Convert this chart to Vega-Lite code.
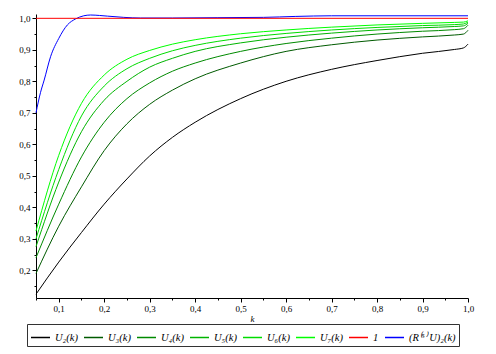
{
  "$schema": "https://vega.github.io/schema/vega-lite/v6.json",
  "width": 432,
  "height": 284,
  "autosize": {"type": "none"},
  "padding": {"left": 36, "top": 14, "right": 28, "bottom": 56},
  "background": "white",
  "config": {
    "view": {"stroke": null},
    "axis": {
      "grid": false,
      "domainColor": "black",
      "tickColor": "black",
      "labelColor": "black",
      "labelFont": "Liberation Serif",
      "labelFontSize": 9,
      "labelFlush": false,
      "labelOverlap": false,
      "titleFont": "Liberation Serif",
      "titleFontStyle": "italic",
      "titleFontWeight": "normal",
      "titleFontSize": 9,
      "titleColor": "black"
    }
  },
  "data": {"values": [
    {"s": "U₂(k)", "k": 0.05, "v": 0.124}, {"s": "U₂(k)", "k": 0.1, "v": 0.226}, {"s": "U₂(k)", "k": 0.15, "v": 0.32}, {"s": "U₂(k)", "k": 0.2, "v": 0.41}, {"s": "U₂(k)", "k": 0.25, "v": 0.49}, {"s": "U₂(k)", "k": 0.3, "v": 0.563}, {"s": "U₂(k)", "k": 0.35, "v": 0.622}, {"s": "U₂(k)", "k": 0.4, "v": 0.67}, {"s": "U₂(k)", "k": 0.5, "v": 0.745}, {"s": "U₂(k)", "k": 0.6, "v": 0.8}, {"s": "U₂(k)", "k": 0.7, "v": 0.838}, {"s": "U₂(k)", "k": 0.8, "v": 0.866}, {"s": "U₂(k)", "k": 0.9, "v": 0.889}, {"s": "U₂(k)", "k": 0.97, "v": 0.901}, {"s": "U₂(k)", "k": 0.99, "v": 0.906}, {"s": "U₂(k)", "k": 1.0, "v": 0.918},
    {"s": "U₃(k)", "k": 0.05, "v": 0.19}, {"s": "U₃(k)", "k": 0.1, "v": 0.34}, {"s": "U₃(k)", "k": 0.15, "v": 0.465}, {"s": "U₃(k)", "k": 0.2, "v": 0.58}, {"s": "U₃(k)", "k": 0.25, "v": 0.665}, {"s": "U₃(k)", "k": 0.3, "v": 0.727}, {"s": "U₃(k)", "k": 0.35, "v": 0.772}, {"s": "U₃(k)", "k": 0.4, "v": 0.808}, {"s": "U₃(k)", "k": 0.5, "v": 0.858}, {"s": "U₃(k)", "k": 0.6, "v": 0.895}, {"s": "U₃(k)", "k": 0.7, "v": 0.916}, {"s": "U₃(k)", "k": 0.8, "v": 0.931}, {"s": "U₃(k)", "k": 0.9, "v": 0.941}, {"s": "U₃(k)", "k": 0.97, "v": 0.947}, {"s": "U₃(k)", "k": 0.99, "v": 0.95}, {"s": "U₃(k)", "k": 1.0, "v": 0.962},
    {"s": "U₄(k)", "k": 0.05, "v": 0.24}, {"s": "U₄(k)", "k": 0.1, "v": 0.41}, {"s": "U₄(k)", "k": 0.15, "v": 0.56}, {"s": "U₄(k)", "k": 0.2, "v": 0.67}, {"s": "U₄(k)", "k": 0.25, "v": 0.745}, {"s": "U₄(k)", "k": 0.3, "v": 0.795}, {"s": "U₄(k)", "k": 0.35, "v": 0.832}, {"s": "U₄(k)", "k": 0.4, "v": 0.858}, {"s": "U₄(k)", "k": 0.5, "v": 0.895}, {"s": "U₄(k)", "k": 0.6, "v": 0.92}, {"s": "U₄(k)", "k": 0.7, "v": 0.937}, {"s": "U₄(k)", "k": 0.8, "v": 0.95}, {"s": "U₄(k)", "k": 0.9, "v": 0.959}, {"s": "U₄(k)", "k": 0.97, "v": 0.964}, {"s": "U₄(k)", "k": 0.99, "v": 0.967}, {"s": "U₄(k)", "k": 1.0, "v": 0.978},
    {"s": "U₅(k)", "k": 0.05, "v": 0.275}, {"s": "U₅(k)", "k": 0.1, "v": 0.48}, {"s": "U₅(k)", "k": 0.15, "v": 0.64}, {"s": "U₅(k)", "k": 0.2, "v": 0.74}, {"s": "U₅(k)", "k": 0.25, "v": 0.8}, {"s": "U₅(k)", "k": 0.3, "v": 0.845}, {"s": "U₅(k)", "k": 0.35, "v": 0.873}, {"s": "U₅(k)", "k": 0.4, "v": 0.895}, {"s": "U₅(k)", "k": 0.5, "v": 0.922}, {"s": "U₅(k)", "k": 0.6, "v": 0.94}, {"s": "U₅(k)", "k": 0.7, "v": 0.953}, {"s": "U₅(k)", "k": 0.8, "v": 0.963}, {"s": "U₅(k)", "k": 0.9, "v": 0.97}, {"s": "U₅(k)", "k": 0.97, "v": 0.974}, {"s": "U₅(k)", "k": 0.99, "v": 0.976}, {"s": "U₅(k)", "k": 1.0, "v": 0.984},
    {"s": "U₆(k)", "k": 0.05, "v": 0.3}, {"s": "U₆(k)", "k": 0.1, "v": 0.52}, {"s": "U₆(k)", "k": 0.15, "v": 0.69}, {"s": "U₆(k)", "k": 0.2, "v": 0.785}, {"s": "U₆(k)", "k": 0.25, "v": 0.84}, {"s": "U₆(k)", "k": 0.3, "v": 0.873}, {"s": "U₆(k)", "k": 0.35, "v": 0.897}, {"s": "U₆(k)", "k": 0.4, "v": 0.914}, {"s": "U₆(k)", "k": 0.5, "v": 0.937}, {"s": "U₆(k)", "k": 0.6, "v": 0.952}, {"s": "U₆(k)", "k": 0.7, "v": 0.963}, {"s": "U₆(k)", "k": 0.8, "v": 0.971}, {"s": "U₆(k)", "k": 0.9, "v": 0.977}, {"s": "U₆(k)", "k": 0.97, "v": 0.98}, {"s": "U₆(k)", "k": 0.99, "v": 0.982}, {"s": "U₆(k)", "k": 1.0, "v": 0.988},
    {"s": "U₇(k)", "k": 0.05, "v": 0.325}, {"s": "U₇(k)", "k": 0.1, "v": 0.565}, {"s": "U₇(k)", "k": 0.15, "v": 0.73}, {"s": "U₇(k)", "k": 0.2, "v": 0.82}, {"s": "U₇(k)", "k": 0.25, "v": 0.87}, {"s": "U₇(k)", "k": 0.3, "v": 0.898}, {"s": "U₇(k)", "k": 0.35, "v": 0.918}, {"s": "U₇(k)", "k": 0.4, "v": 0.932}, {"s": "U₇(k)", "k": 0.5, "v": 0.951}, {"s": "U₇(k)", "k": 0.6, "v": 0.963}, {"s": "U₇(k)", "k": 0.7, "v": 0.972}, {"s": "U₇(k)", "k": 0.8, "v": 0.979}, {"s": "U₇(k)", "k": 0.9, "v": 0.984}, {"s": "U₇(k)", "k": 0.97, "v": 0.987}, {"s": "U₇(k)", "k": 0.99, "v": 0.988}, {"s": "U₇(k)", "k": 1.0, "v": 0.992},
    {"s": "(R⁽⁵⁾ U)₂(k)", "k": 0.05, "v": 0.7}, {"s": "(R⁽⁵⁾ U)₂(k)", "k": 0.06, "v": 0.765}, {"s": "(R⁽⁵⁾ U)₂(k)", "k": 0.068, "v": 0.804}, {"s": "(R⁽⁵⁾ U)₂(k)", "k": 0.082, "v": 0.878}, {"s": "(R⁽⁵⁾ U)₂(k)", "k": 0.1, "v": 0.936}, {"s": "(R⁽⁵⁾ U)₂(k)", "k": 0.119, "v": 0.979}, {"s": "(R⁽⁵⁾ U)₂(k)", "k": 0.137, "v": 0.998}, {"s": "(R⁽⁵⁾ U)₂(k)", "k": 0.155, "v": 1.008}, {"s": "(R⁽⁵⁾ U)₂(k)", "k": 0.17, "v": 1.0105}, {"s": "(R⁽⁵⁾ U)₂(k)", "k": 0.19, "v": 1.009}, {"s": "(R⁽⁵⁾ U)₂(k)", "k": 0.207, "v": 1.007}, {"s": "(R⁽⁵⁾ U)₂(k)", "k": 0.243, "v": 1.003}, {"s": "(R⁽⁵⁾ U)₂(k)", "k": 0.28, "v": 1.001}, {"s": "(R⁽⁵⁾ U)₂(k)", "k": 0.35, "v": 1.001}, {"s": "(R⁽⁵⁾ U)₂(k)", "k": 0.45, "v": 1.002}, {"s": "(R⁽⁵⁾ U)₂(k)", "k": 0.55, "v": 1.003}, {"s": "(R⁽⁵⁾ U)₂(k)", "k": 0.62, "v": 1.006}, {"s": "(R⁽⁵⁾ U)₂(k)", "k": 0.7, "v": 1.008}, {"s": "(R⁽⁵⁾ U)₂(k)", "k": 1.0, "v": 1.008},
    {"s": "1", "k": 0.05, "v": 1.0}, {"s": "1", "k": 1.0, "v": 1.0}
  ]},
  "mark": {"type": "line", "strokeWidth": 1, "interpolate": "monotone"},
  "encoding": {
    "x": {
      "field": "k", "type": "quantitative",
      "scale": {"domain": [0.05, 1.0], "nice": false, "zero": false},
      "axis": {
        "title": "k",
        "values": [0.05, 0.1, 0.15, 0.2, 0.25, 0.3, 0.35, 0.4, 0.45, 0.5, 0.55, 0.6, 0.65, 0.7, 0.75, 0.8, 0.85, 0.9, 0.95, 1.0],
        "labelExpr": "abs(datum.value*10 - round(datum.value*10)) < 0.001 && datum.value > 0.06 ? replace(format(datum.value, '.1f'), '.', ',') : ''",
        "tickSize": {"condition": {"test": "abs(datum.value*10 - round(datum.value*10)) < 0.001", "value": 4}, "value": 2},
        "labelPadding": 2,
        "titlePadding": 1
      }
    },
    "y": {
      "field": "v", "type": "quantitative",
      "scale": {"domain": [0.112, 1.0137], "nice": false, "zero": false},
      "axis": {
        "title": null,
        "values": [0.15, 0.2, 0.25, 0.3, 0.35, 0.4, 0.45, 0.5, 0.55, 0.6, 0.65, 0.7, 0.75, 0.8, 0.85, 0.9, 0.95, 1.0],
        "labelExpr": "abs(datum.value*10 - round(datum.value*10)) < 0.001 ? replace(format(datum.value, '.1f'), '.', ',') : ''",
        "tickSize": {"condition": {"test": "abs(datum.value*10 - round(datum.value*10)) < 0.001", "value": 4}, "value": 2},
        "labelPadding": 2
      }
    },
    "color": {
      "field": "s", "type": "nominal",
      "scale": {
        "domain": ["U₂(k)", "U₃(k)", "U₄(k)", "U₅(k)", "U₆(k)", "U₇(k)", "1", "(R⁽⁵⁾ U)₂(k)"],
        "range": ["#000000", "#005a00", "#008a00", "#00b400", "#00dc00", "#00ff00", "#ff0000", "#0000ff"]
      },
      "legend": {
        "title": null,
        "orient": "none",
        "legendX": -9,
        "legendY": 310,
        "direction": "horizontal",
        "columns": 8,
        "symbolType": "stroke",
        "symbolSize": 361,
        "symbolStrokeWidth": 1.5,
        "labelFont": "Liberation Serif",
        "labelFontStyle": "italic",
        "labelFontWeight": "normal",
        "labelFontSize": 10.5,
        "labelColor": "black",
        "labelOffset": 4,
        "labelLimit": 200,
        "columnPadding": 3,
        "padding": 3,
        "strokeColor": "#333333"
      }
    }
  }
}
